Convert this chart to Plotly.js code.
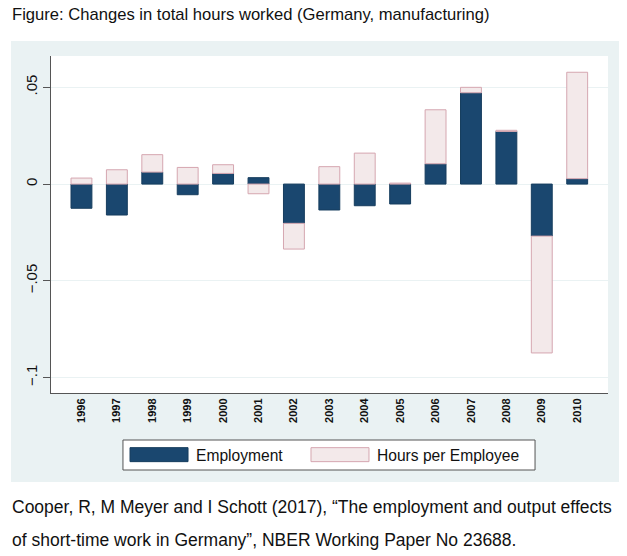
<!DOCTYPE html>
<html>
<head>
<meta charset="utf-8">
<script src="https://cdn.plot.ly/plotly-3.0.1.min.js"></script>
<style>
  html, body { margin: 0; padding: 0; background: #fff; }
  #graph { width: 627px; height: 556px; }
</style>
</head>
<body>
<div id="graph"></div>
<script>
// Changes in total hours worked, German manufacturing
let years = ["1996", "1997", "1998", "1999", "2000", "2001", "2002", "2003",
             "2004", "2005", "2006", "2007", "2008", "2009", "2010"];
let employment = [-0.0125, -0.016, 0.0062, -0.0055, 0.0055, 0.0033, -0.0203, -0.0134,
                  -0.0112, -0.0103, 0.0105, 0.0472, 0.0272, -0.0269, 0.0028];
let hours_per_employee = [0.0031, 0.0074, 0.009, 0.0086, 0.0045, -0.005, -0.0133, 0.009,
                          0.016, 0.0005, 0.0279, 0.0028, 0.0006, -0.0604, 0.055];
let y_ticks = [-0.1, -0.05, 0, 0.05];
let y_tick_labels = ["\u2212.1", "\u2212.05", "0", ".05"];

let font_family = "Liberation Sans, Arial, Helvetica, sans-serif";

let trace1 = {
  x: years,
  y: employment,
  type: "bar",
  name: "Employment",
  legend: "legend",
  marker: { color: "#1a476f", line: { color: "#163d5e", width: 1 } },
  hoverinfo: "skip",
};
let trace2 = {
  x: years,
  y: hours_per_employee,
  type: "bar",
  name: "Hours per Employee",
  legend: "legend2",
  marker: { color: "#f3e9ea", line: { color: "#d5a6b0", width: 1 } },
  hoverinfo: "skip",
};

// one key per legend so the two entries can sit like Stata's, inside one box
function legend_at(x) {
  return {
    orientation: "h",
    x: x,
    xanchor: "left",
    y: -0.184,
    yanchor: "middle",
    bgcolor: "rgba(0,0,0,0)",
    borderwidth: 0,
    font: { size: 15.6, color: "#111111" },
    itemwidth: 64,
  };
}

let layout = {
  width: 627,
  height: 556,
  margin: { l: 51, r: 19, t: 56, b: 163 },
  paper_bgcolor: "#ffffff",
  plot_bgcolor: "#ffffff",
  font: { family: font_family, color: "#111111" },
  barmode: "relative",
  bargap: 0.41,
  showlegend: true,
  legend: legend_at(0.1275),
  legend2: legend_at(0.4524),
  xaxis: {
    type: "category",
    range: [-0.86, 14.87],
    showgrid: false,
    showline: true,
    linecolor: "#555555",
    linewidth: 1,
    ticks: "",
    tickangle: -90,
    tickfont: { size: 11, color: "#111111", weight: "bold" },
    fixedrange: true,
  },
  yaxis: {
    range: [-0.108, 0.0662],
    tickvals: y_ticks,
    ticktext: y_tick_labels,
    tickangle: -90,
    tickfont: { size: 15, color: "#111111" },
    ticks: "outside",
    ticklen: 7,
    tickcolor: "#555555",
    showline: true,
    linecolor: "#555555",
    linewidth: 1,
    showgrid: true,
    gridcolor: "#eaf2f3",
    zeroline: true,
    zerolinecolor: "#eaf2f3",
    zerolinewidth: 1,
    fixedrange: true,
  },
  shapes: [
    {
      // outer graph region (bluish gray)
      type: "rect", xref: "paper", yref: "paper",
      x0: -0.0718, x1: 1.0197, y0: -0.264, y1: 1.0445,
      fillcolor: "#eaf2f3", line: { width: 0 }, layer: "below",
    },
    {
      // plot region
      type: "rect", xref: "paper", yref: "paper",
      x0: 0, x1: 1, y0: 0, y1: 1,
      fillcolor: "#ffffff", line: { width: 0 }, layer: "below",
    },
    {
      // legend box
      type: "rect", xref: "paper", yref: "paper",
      x0: 0.1292, x1: 0.869, y0: -0.2285, y1: -0.1395,
      fillcolor: "#ffffff", line: { color: "#555555", width: 1 }, layer: "below",
    },
  ],
  annotations: [
    {
      xref: "paper", yref: "paper", x: -0.0736, y: 1.1217,
      xanchor: "left", yanchor: "middle", showarrow: false,
      text: "Figure: Changes in total hours worked (Germany, manufacturing)",
      font: { size: 16.6, color: "#111111" },
    },
    {
      xref: "paper", yref: "paper", x: -0.0736, y: -0.338,
      xanchor: "left", yanchor: "middle", showarrow: false,
      text: "Cooper, R, M Meyer and I Schott (2017), \u201cThe employment and output effects",
      font: { size: 17.5, color: "#111111" },
    },
    {
      xref: "paper", yref: "paper", x: -0.0736, y: -0.436,
      xanchor: "left", yanchor: "middle", showarrow: false,
      text: "of short-time work in Germany\u201d, NBER Working Paper No 23688.",
      font: { size: 17.5, color: "#111111" },
    },
  ],
};

Plotly.newPlot("graph", [trace1, trace2], layout, { displayModeBar: false, staticPlot: true })
  .then(function (gd) {
    // Stata draws wide flat legend keys; widen Plotly's square swatches
    let swatches = gd.querySelectorAll(".legendpoints path");
    for (let s of swatches) {
      s.setAttribute("d", "M29,7H-29V-7H29Z");
    }
  });
</script>
</body>
</html>
